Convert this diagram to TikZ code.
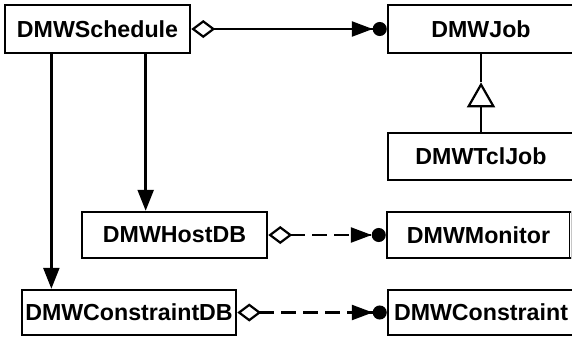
\documentclass[tikz,border=0pt]{standalone}
\usepackage{fontspec}
\setmainfont{Liberation Sans}
\usetikzlibrary{arrows.meta,calc}
\begin{document}
\begin{tikzpicture}[x=1pt,y=-1pt,
  line width=2.5pt,
  cls/.style={draw, rectangle, inner sep=0pt, fill=white,
    font=\fontsize{23.2}{28}\selectfont\bfseries},
  aggr/.style={{Diamond[open,length=24pt,width=18pt,line width=2.2pt]}-{Triangle[length=21pt,width=15pt]Circle[length=14pt]}},
  assoc/.style={-{Triangle[length=21pt,width=16pt]}},
  dashline/.style={dash pattern=on 15pt off 7pt}]
\useasboundingbox (0,0) rectangle (572,338);
\begin{scope}
\clip (0,0) rectangle (572,338);

% classes
\node[cls, minimum width=185pt, minimum height=48pt] (sched) at (97.5,29) {DMWSchedule};
\node[cls, minimum width=186pt, minimum height=48pt] (job)   at (481,29)  {DMWJob};
\node[cls, minimum width=186pt, minimum height=47pt] (tcl)   at (481,156.5) {DMWTclJob};
\node[cls, minimum width=185pt, minimum height=46pt] (host)  at (174.5,235) {DMWHostDB};
\node[cls, minimum width=183pt, minimum height=46pt] (mon)   at (478.5,235) {DMWMonitor};
\node[cls, minimum width=214pt, minimum height=45pt] (cdb)   at (129,312.5) {DMWConstraintDB};
\node[cls, minimum width=186pt, minimum height=45pt] (con)   at (481,312.5) {DMWConstraint};

% faint right side of the monitor box
\draw[white, line width=3.2pt] ([yshift=-2pt]mon.north east) -- ([yshift=2pt]mon.south east);
\draw[gray!45, line width=0.8pt] (mon.north east) -- (mon.south east);

% aggregations
\draw[aggr] (sched.east) -- (job.west);
\draw[aggr, dashline] (host.east) -- (mon.west);
\draw[aggr, dashline] (cdb.east) -- (con.west);

% navigable associations
\coordinate (s1) at ($(sched.south west)!0.254!(sched.south east)$);
\coordinate (s2) at ($(sched.south west)!0.757!(sched.south east)$);
\draw[assoc] (s1) -- (s1 |- cdb.north);
\draw[assoc] (s2) -- (s2 |- host.north);

% generalisation
\draw[-{Triangle[open,length=25pt,width=28pt,line width=2.2pt]}] (tcl.north) -- ($(tcl.north)!0.6375!(job.south)$);
\draw ($(tcl.north)!0.6375!(job.south)$) -- (job.south);
\end{scope}
\end{tikzpicture}
\end{document}
